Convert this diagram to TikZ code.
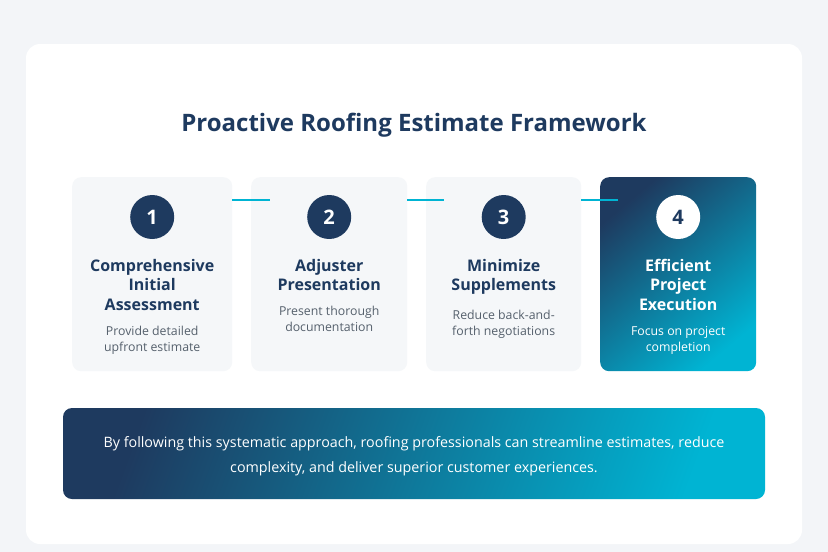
\documentclass[tikz,border=0pt]{standalone}
\usepackage{fontspec}
\setmainfont{Open Sans}
\usetikzlibrary{calc,positioning}
\definecolor{navy}{HTML}{1E3A5F}
\definecolor{cyan}{HTML}{00B4D3}
\definecolor{pagebg}{HTML}{F3F5F8}
\definecolor{stepbg}{HTML}{F5F7F9}
\definecolor{greytext}{HTML}{55606C}

\tikzset{
  stepbox/.style = {draw=none, fill=stepbg, rounded corners=9pt, minimum width=160pt, minimum height=194pt, anchor=north west},
  stephot/.style = {stepbox, fill=none, shading=axis, top color=navy, bottom color=cyan, shading angle=40},
  num/.style = {circle, fill=navy, text=white, minimum size=44pt, inner sep=0pt, font=\fontsize{20}{20}\selectfont\bfseries},
  head/.style = {align=center, text=navy, inner sep=0pt, font=\fontsize{16}{19.5}\selectfont\bfseries},
  desc/.style = {align=center, text=greytext, inner sep=0pt, font=\fontsize{12.3}{16}\selectfont},
  link/.style = {cyan, line width=1.5pt}
}

\begin{document}
\begin{tikzpicture}[x=1pt, y=-1pt]
\useasboundingbox (0,0) rectangle (828,552);
\fill[pagebg] (0,0) rectangle (828,552);
\fill[white, rounded corners=14pt] (26,44) rectangle (802,544);

\node[text=navy, font=\fontsize{24}{28}\selectfont\bfseries] (title) at (414,125) {Proactive Roofing Estimate Framework};

% steps
\node[stepbox] (b1) at (72,177) {};
\node[stepbox, minimum width=156pt] (b2) at (251,177) {};
\node[stepbox, minimum width=155pt] (b3) at (426,177) {};
\node[stephot, minimum width=156pt] (b4) at (600,177) {};

% connectors
\draw[link] ($(b1.north east)+(0,23)$) -- ($(b2.north west)+(19,23)$);
\draw[link] ($(b2.north east)+(0,23)$) -- ($(b3.north west)+(18,23)$);
\draw[link] ($(b3.north east)+(0,23)$) -- ($(b4.north west)+(18,23)$);

\node[num] (n1) at ($(b1.north)+(0,40)$) {1};
\node[num] (n2) at ($(b2.north)+(0,40)$) {2};
\node[num] (n3) at ($(b3.north)+(0,40)$) {3};
\node[num, fill=white, text=navy] (n4) at ($(b4.north)+(0,40)$) {4};

\node[head, anchor=north] (h1) at ($(b1.north)+(0,82)$) {Comprehensive\\Initial\\Assessment};
\node[head, anchor=north] (h2) at ($(b2.north)+(0,82)$) {Adjuster\\Presentation};
\node[head, anchor=north] (h3) at ($(b3.north)+(0,82)$) {Minimize\\Supplements};
\node[head, anchor=north, text=white] (h4) at ($(b4.north)+(0,82)$) {Efficient\\Project\\Execution};

\node[desc, below=15pt of h1] (d1) {Provide detailed\\upfront estimate};
\node[desc, below=15pt of h2] (d2) {Present thorough\\documentation};
\node[desc, below=15pt of h3] (d3) {Reduce back-and-\\forth negotiations};
\node[desc, below=15pt of h4, text=white] (d4) {Focus on project\\completion};

% summary banner
\shade[top color=navy, bottom color=cyan, shading angle=70, rounded corners=9pt] (63,408) rectangle (765,499);
\node[align=center, text=white, font=\fontsize{14.3}{25}\selectfont] (sum) at (414,456) {By following this systematic approach, roofing professionals can streamline estimates, reduce\\complexity, and deliver superior customer experiences.};
\end{tikzpicture}
\end{document}
